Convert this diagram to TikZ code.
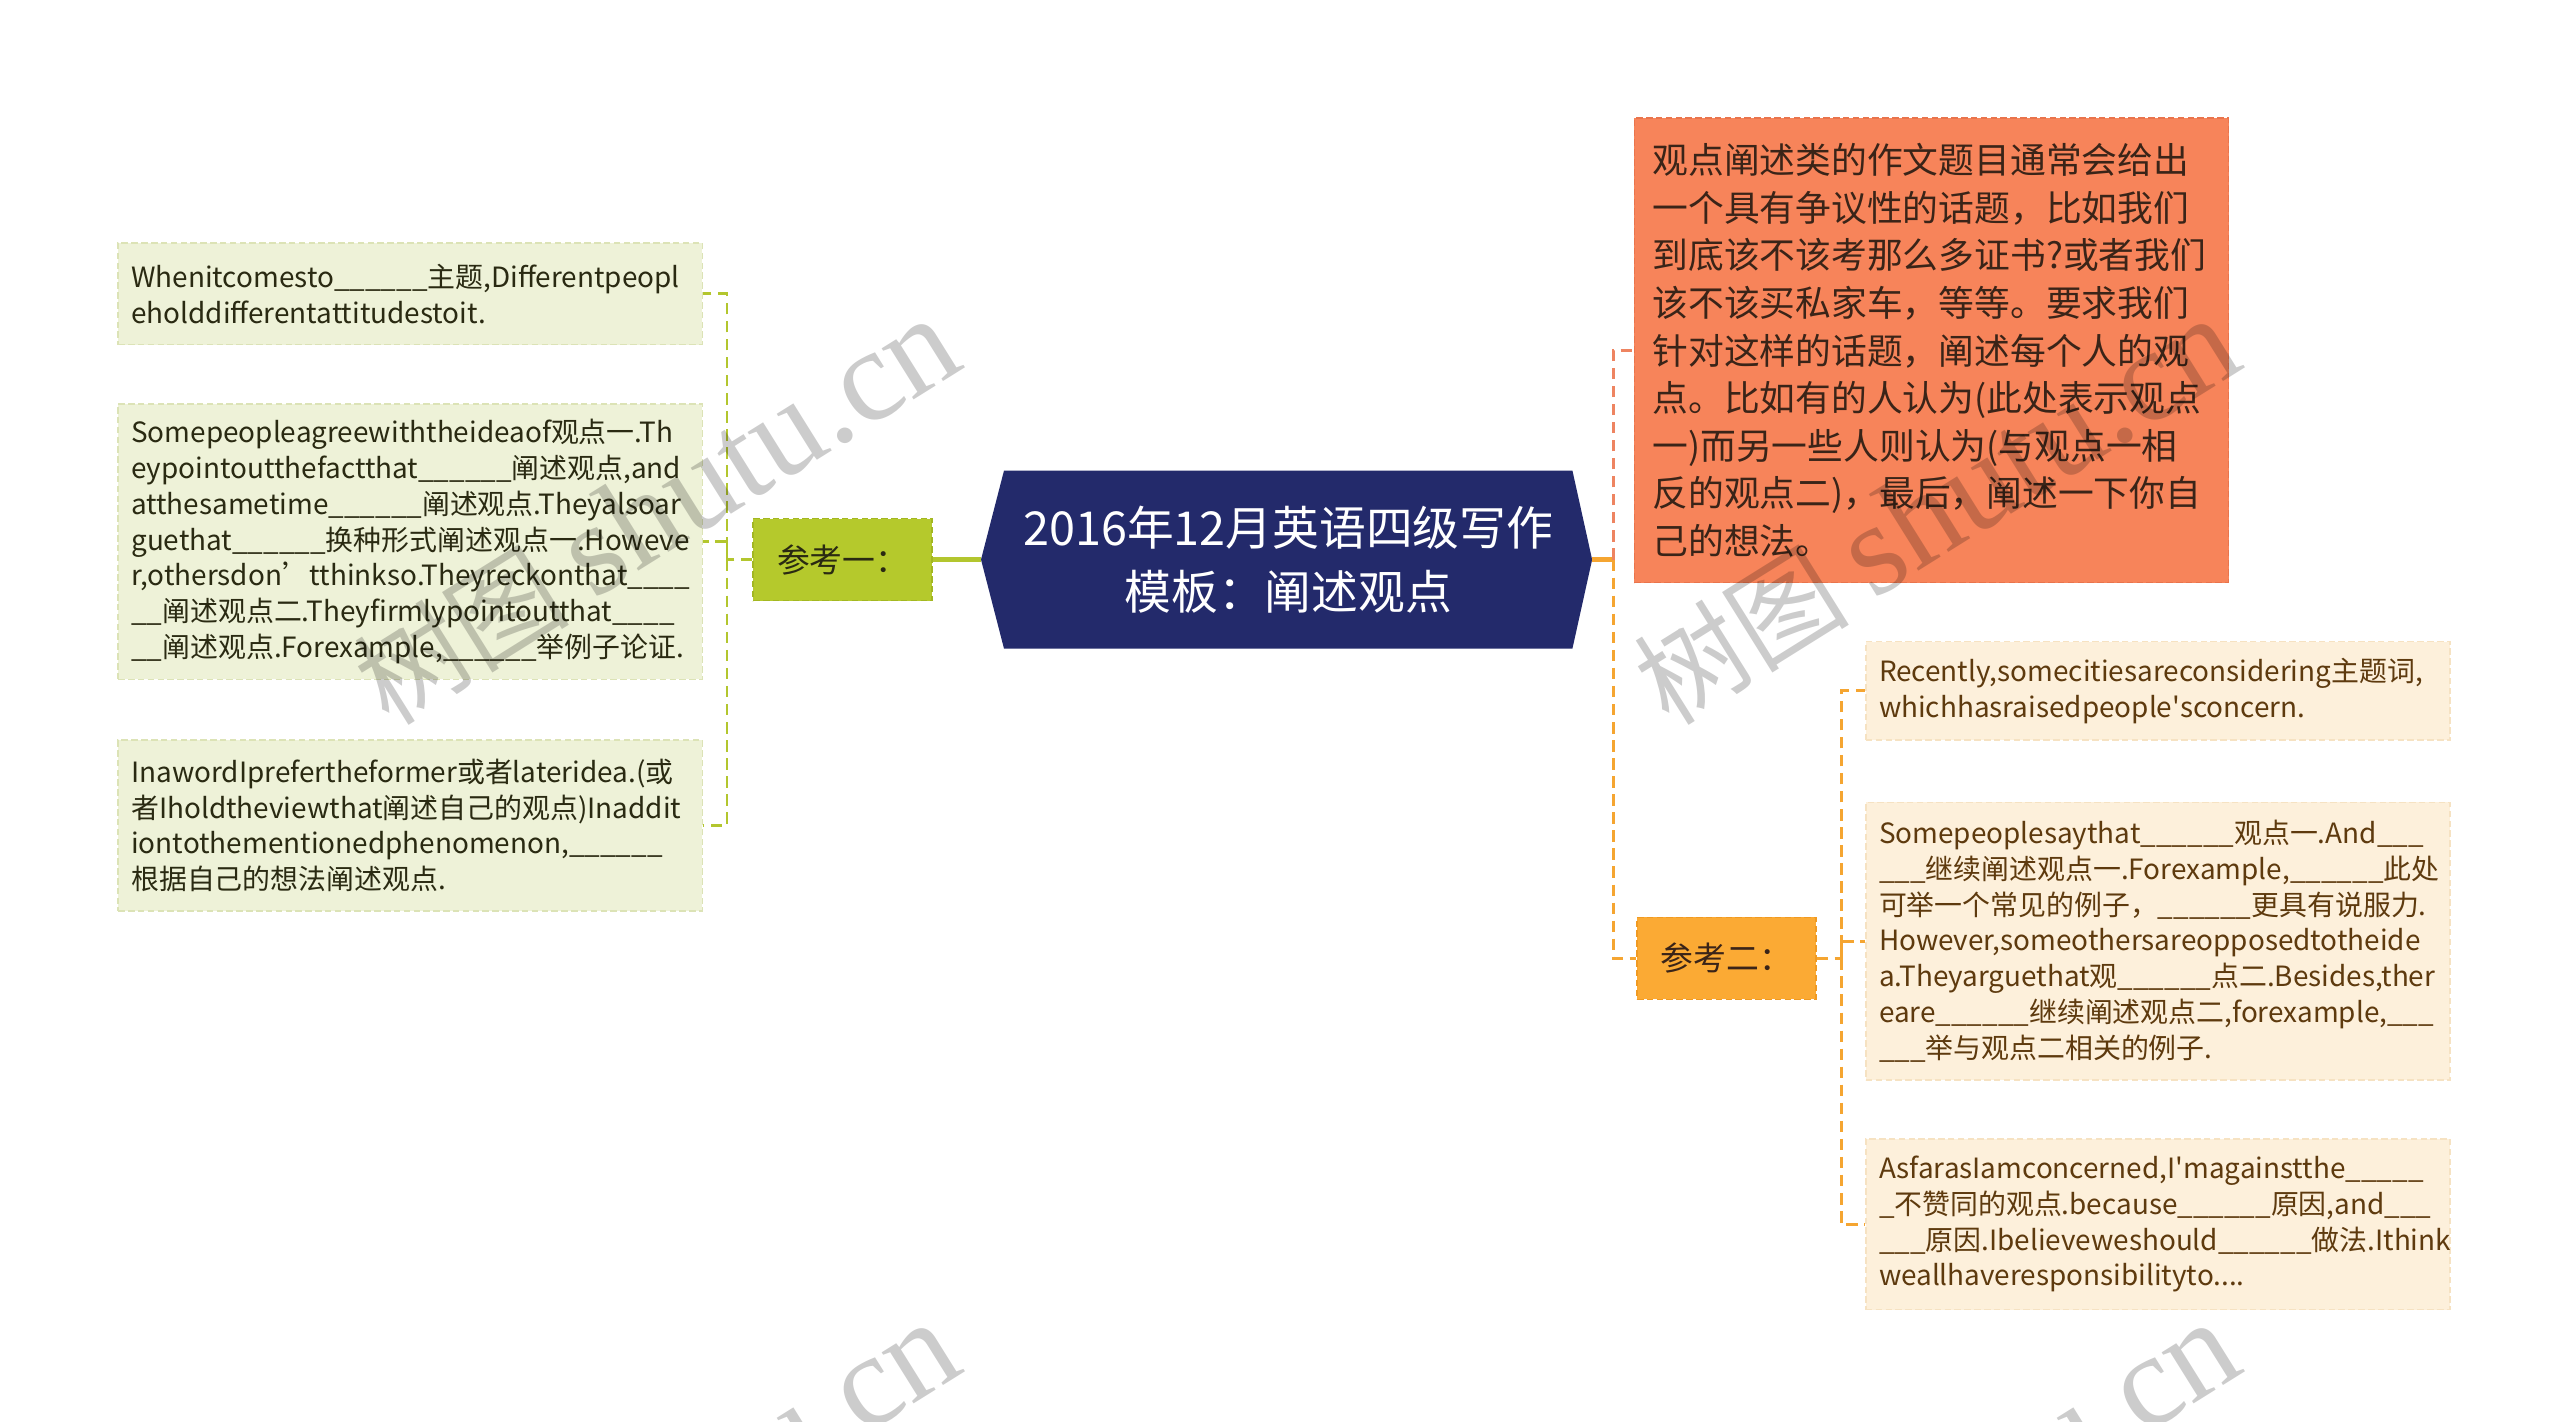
\documentclass[tikz,border=0pt]{standalone}
\usepackage{fontspec}
\setmainfont{Noto Sans CJK SC}
\newfontfamily\wmserif{Liberation Serif}
\usetikzlibrary{calc,backgrounds}
\definecolor{navy}{HTML}{232A6B}
\definecolor{kgreen}{HTML}{B5C92C}
\definecolor{kgreenb}{HTML}{A3B722}
\definecolor{lgfill}{HTML}{EEF2D8}
\definecolor{lgborder}{HTML}{DCE3B6}
\definecolor{ltext}{HTML}{2A2A12}
\definecolor{congreen}{HTML}{B3C62E}
\definecolor{coral}{HTML}{F7845A}
\definecolor{coralb}{HTML}{E9744C}
\definecolor{coraltext}{HTML}{3A2418}
\definecolor{conorange}{HTML}{F5A531}
\definecolor{concoral}{HTML}{EE8461}
\definecolor{korange}{HTML}{FBAA34}
\definecolor{korangeb}{HTML}{F09A22}
\definecolor{rfill}{HTML}{FDF0DB}
\definecolor{rborder}{HTML}{F6E2C2}
\definecolor{rtext}{HTML}{5E3A0E}
\newcommand\blk{\_\_\_\_\_\_}
\newcommand\boxfont{\fontsize{17}{21.8}\selectfont\hyphenpenalty=10000 \exhyphenpenalty=10000 }
\tikzset{
  txtbox/.style={dashed, dash pattern=on 4pt off 2pt, line width=1pt, text width=340pt,
    inner xsep=8pt, inner ysep=0pt, align=left, font=\boxfont, minimum width=356pt},
  lbox/.style={txtbox, draw=lgborder, fill=lgfill, text=ltext},
  rbox/.style={txtbox, draw=rborder, fill=rfill, text=rtext},
  obox/.style={dashed, dash pattern=on 4pt off 2pt, line width=1pt, draw=coralb, fill=coral,
    text=coraltext, text width=340pt, inner xsep=11pt, inner ysep=0pt, align=left,
    font={\fontsize{21.8}{29}\selectfont\hyphenpenalty=10000 }, minimum width=362pt},
  kbox/.style={dashed, dash pattern=on 4pt off 2pt, line width=1pt, minimum width=109pt,
    minimum height=50pt, inner sep=0pt, font=\fontsize{20}{24}\selectfont},
  rootnode/.style={minimum width=346pt, minimum height=108pt, inner sep=0pt, align=center,
    text=white, font=\fontsize{28.5}{39}\selectfont},
  solidcon/.style={line width=2.6pt},
  dashcon/.style={line width=1.7pt, dash pattern=on 7pt off 4pt},
  wm/.style={text=black, opacity=0.2, font=\fontsize{66}{70}\selectfont, inner sep=0pt}
}
\begin{document}
\begin{tikzpicture}[x=1pt,y=-1pt]
\useasboundingbox (0,0) rectangle (1560,866.5);

% root
\node[rootnode] (root) at (785,341) {2016年12月英语四级写作\\模板：阐述观点};
\coordinate (rootL) at ($(root.west)+(-14,0)$);
\coordinate (rootR) at ($(root.east)+(12,0)$);
\begin{scope}[on background layer]
\fill[white] (0,0) rectangle (1560,866.5);
\fill[navy] (root.north west) -- (root.north east) -- (rootR) -- (root.south east)
  -- (root.south west) -- (rootL) -- cycle;
\end{scope}

% left branch
\node[kbox, draw=kgreenb, fill=kgreen, text=ltext] (k1) at (513.5,341) {参考一：};
\node[lbox, minimum height=62pt] (L1) at (250,179)
 {Whenitcomesto\blk 主题,Differentpeopl\\eholddifferentattitudestoit.};
\node[lbox, minimum height=168pt] (L2) at (250,330)
 {Somepeopleagreewiththeideaof观点一.Th\\
  eypointoutthefactthat\blk 阐述观点,and\\
  atthesametime\blk 阐述观点.Theyalsoar\\
  guethat\blk 换种形式阐述观点一.Howeve\\
  r,othersdon’tthinkso.Theyreckonthat\_\_\_\_\\
  \_\_阐述观点二.Theyfirmlypointoutthat\_\_\_\_\\
  \_\_阐述观点.Forexample,\blk 举例子论证.};
\node[lbox, minimum height=104pt] (L3) at (250,503)
 {InawordIprefertheformer或者lateridea.(或\\
  者Iholdtheviewthat阐述自己的观点)Inaddit\\
  iontothementionedphenomenon,\blk\\
  根据自己的想法阐述观点.};

\coordinate (jL) at (443,341);
\draw[solidcon, congreen] (rootL) -- (k1.east);
\draw[dashcon, congreen] (k1.west) -- (jL) |- (L1.east);
\draw[dashcon, congreen] (jL) |- (L2.east);
\draw[dashcon, congreen] (jL) |- (L3.east);

% right branch
\node[obox, minimum height=283pt] (O) at (1177,213.5)
 {观点阐述类的作文题目通常会给出\\
  一个具有争议性的话题，比如我们\\
  到底该不该考那么多证书?或者我们\\
  该不该买私家车，等等。要求我们\\
  针对这样的话题，阐述每个人的观\\
  点。比如有的人认为(此处表示观点\\
  一)而另一些人则认为(与观点一相\\
  反的观点二)，最后，阐述一下你自\\
  己的想法。};
\node[kbox, draw=korangeb, fill=korange, text=coraltext] (k2) at (1052,584) {参考二：};
\node[rbox, minimum height=60pt] (R1) at (1315,421)
 {Recently,somecitiesareconsidering主题词,\\whichhasraisedpeople\textquotesingle sconcern.};
\node[rbox, minimum height=169pt] (R2) at (1315,573.5)
 {Somepeoplesaythat\blk 观点一.And\_\_\_\\
  \_\_\_继续阐述观点一.Forexample,\blk 此处\\
  可举一个常见的例子，\blk 更具有说服力.\\
  However,someothersareopposedtotheide\\
  a.Theyarguethat观\blk 点二.Besides,ther\\
  eare\blk 继续阐述观点二,forexample,\_\_\_\\
  \_\_\_举与观点二相关的例子.};
\node[rbox, minimum height=104pt] (R3) at (1315,746)
 {AsfarasIamconcerned,I\textquotesingle magainstthe\_\_\_\_\_\\
  \_不赞同的观点.because\blk 原因,and\_\_\_\\
  \_\_\_原因.Ibelieveweshould\blk 做法.Ithink\\
  weallhaveresponsibilityto....};

\coordinate (jR) at (983,341);
\coordinate (jR2) at (1122,584);
\draw[solidcon, conorange] (rootR) -- (jR);
\draw[dashcon, concoral] (jR) |- (O.west);
\draw[dashcon, conorange] (jR) |- (k2.west);
\draw[dashcon, conorange] (k2.east) -- (jR2) |- (R1.west);
\draw[dashcon, conorange] (jR2) |- (R2.west);
\draw[dashcon, conorange] (jR2) |- (R3.west);

% watermarks
\begin{scope}
\clip (0,0) rectangle (1560,866.5);
\node[wm, rotate=32] (w1) at (400,312) {树图 {\wmserif\fontsize{80}{80}\selectfont shutu.cn}};
\node[wm, rotate=32] (w2) at (1180,312) {树图 {\wmserif\fontsize{80}{80}\selectfont shutu.cn}};
\node[wm, rotate=32] (w3) at (400,924) {树图 {\wmserif\fontsize{80}{80}\selectfont shutu.cn}};
\node[wm, rotate=32] (w4) at (1180,924) {树图 {\wmserif\fontsize{80}{80}\selectfont shutu.cn}};
\end{scope}
\end{tikzpicture}
\end{document}
